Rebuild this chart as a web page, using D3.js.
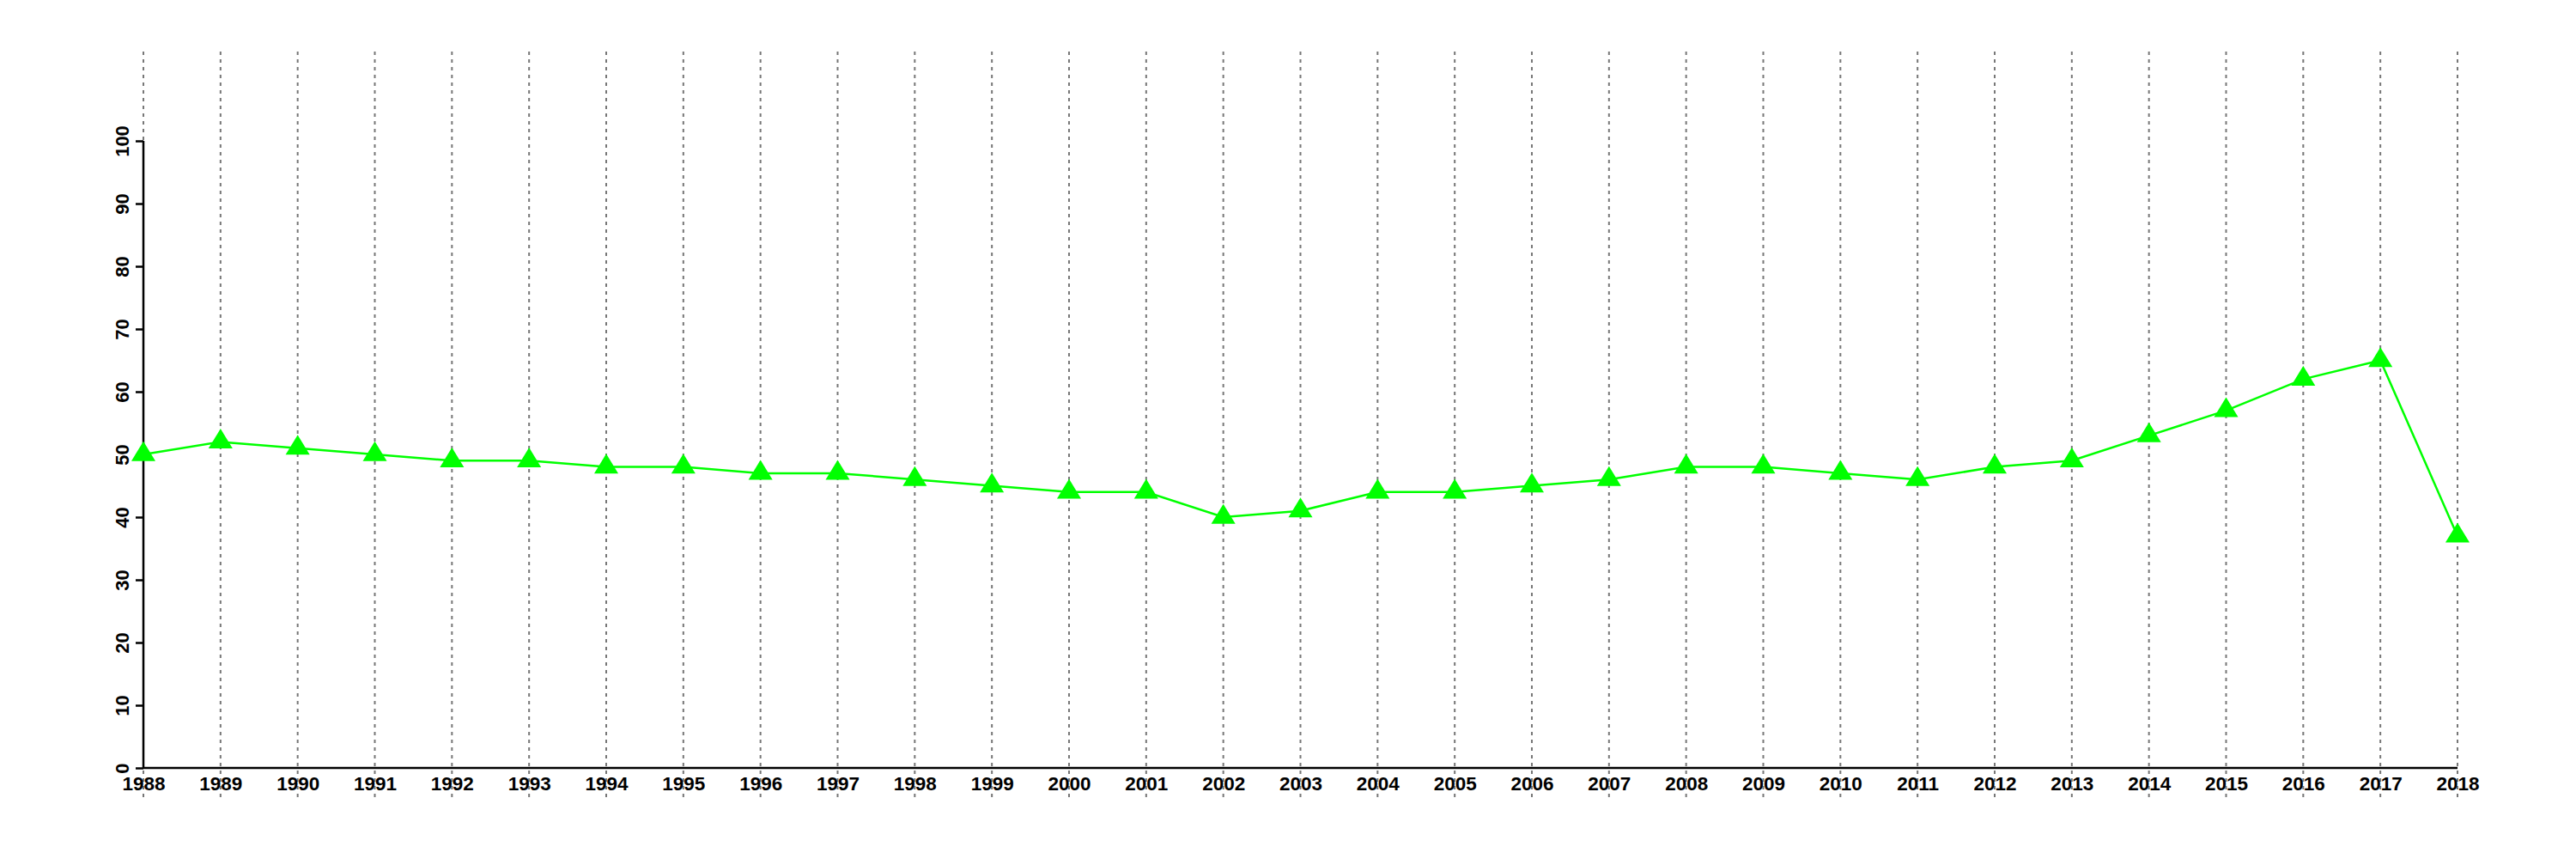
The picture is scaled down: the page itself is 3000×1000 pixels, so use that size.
<!DOCTYPE html>
<html>
<head>
<meta charset="utf-8">
<script src="https://cdn.jsdelivr.net/npm/d3@7"></script>
<style>
  html, body { margin: 0; padding: 0; background: #ffffff; }
  svg { display: block; }
</style>
</head>
<body>
<svg id="chart" width="3000" height="1000"></svg>
<script>
const years = [1988,1989,1990,1991,1992,1993,1994,1995,1996,1997,1998,1999,2000,2001,2002,2003,2004,2005,2006,2007,2008,2009,2010,2011,2012,2013,2014,2015,2016,2017,2018];
const values = [50,52,51,50,49,49,48,48,47,47,46,45,44,44,40,41,44,44,45,46,48,48,47,46,48,49,53,57,62,65,37];
const yTicks = [0,10,20,30,40,50,60,70,80,90,100];

(function () {
const svg = d3.select("#chart");
const mLeft = 167, mRight = 2862, mTop = 164, mBottom = 894;
const x = d3.scaleLinear().domain([1988, 2018]).range([mLeft, mRight]);
const y = d3.scaleLinear().domain([0, 100]).range([mBottom, mTop]);
const font = "'Liberation Sans', Arial, Helvetica, sans-serif";

// vertical dotted grid lines
svg.append("g").selectAll("line").data(years).join("line")
  .attr("x1", d => x(d)).attr("x2", d => x(d))
  .attr("y1", 60).attr("y2", 928)
  .attr("stroke", "#777777").attr("stroke-width", 2)
  .attr("stroke-dasharray", "4,5");

// y axis
const yAxis = svg.append("g").attr("transform", `translate(${mLeft},0)`)
  .call(d3.axisLeft(y).tickValues(yTicks).tickSize(9).tickFormat(d3.format("d")));
yAxis.select(".domain").attr("stroke", "#000").attr("stroke-width", 2.5)
  .attr("d", `M0,${y(0)}V${y(100)}`);
yAxis.selectAll(".tick line").attr("stroke", "#000").attr("stroke-width", 2.5);
yAxis.selectAll(".tick text")
  .attr("x", null).attr("dy", null)
  .attr("transform", "translate(-17,0) rotate(-90)")
  .attr("text-anchor", "middle")
  .attr("font-family", font).attr("font-weight", "bold").attr("font-size", 22)
  .attr("fill", "#000");

// x axis
const xAxis = svg.append("g").attr("transform", `translate(0,${mBottom})`)
  .call(d3.axisBottom(x).tickValues(years).tickSize(0).tickFormat(d3.format("d")));
xAxis.select(".domain").attr("stroke", "#000").attr("stroke-width", 2.5)
  .attr("d", `M${x(1988)},0H${x(2018)}`);
xAxis.selectAll(".tick text")
  .attr("y", 26).attr("dy", null)
  .attr("font-family", font).attr("font-weight", "bold").attr("font-size", 22.5)
  .attr("fill", "#000");

// line
const data = years.map((yr, i) => ({yr, v: values[i]}));
svg.append("path").datum(data)
  .attr("fill", "none").attr("stroke", "#00ff00").attr("stroke-width", 2.5)
  .attr("d", d3.line().x(d => x(d.yr)).y(d => y(d.v)));

// triangle markers (width ~28, height ~23, centred on centroid)
const wideTriangle = {
  draw(context, size) {
    const h = Math.sqrt(size) * 1.0, w = h * 1.22;
    context.moveTo(0, -h * 2 / 3);
    context.lineTo(w / 2, h / 3);
    context.lineTo(-w / 2, h / 3);
    context.closePath();
  }
};
const tri = d3.symbol().type(wideTriangle).size(23 * 23);
svg.append("g").selectAll("path").data(data).join("path")
  .attr("d", tri)
  .attr("transform", d => `translate(${x(d.yr)},${y(d.v)})`)
  .attr("fill", "#00ff00");
})();
</script>
</body>
</html>
